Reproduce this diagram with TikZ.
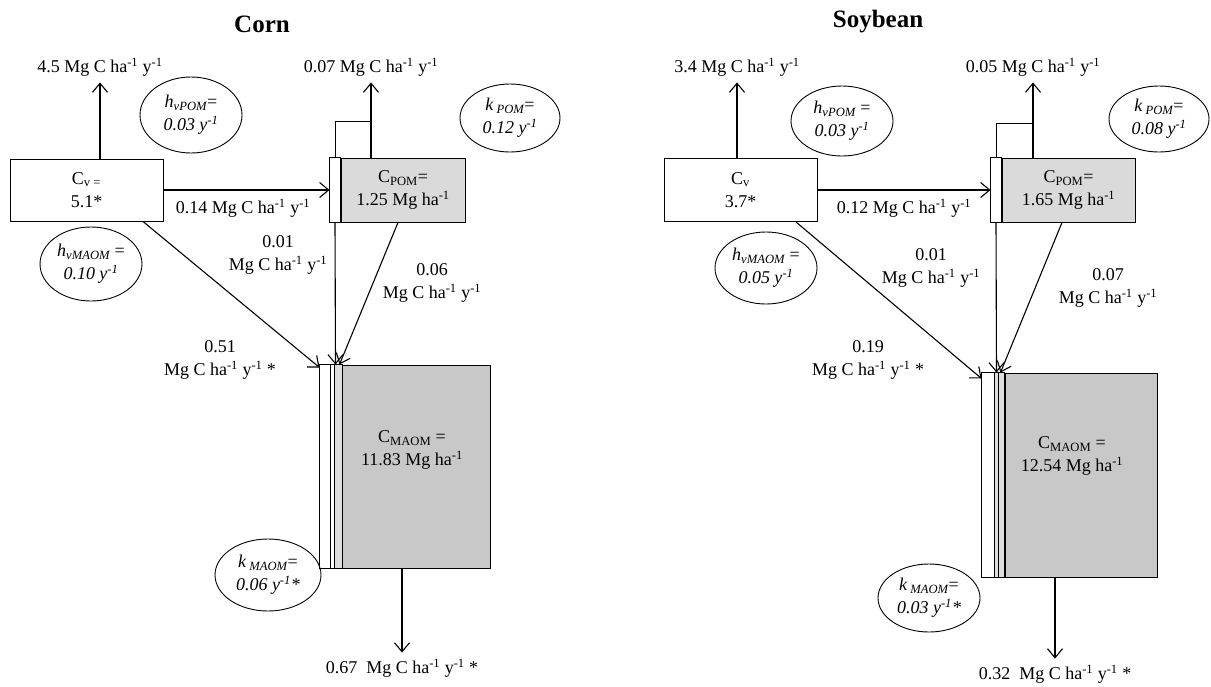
\documentclass[tikz,border=0pt]{standalone}
\usepackage{fontspec}
\setmainfont{Liberation Serif}
\usetikzlibrary{shapes.geometric,arrows.meta}

\definecolor{pomgray}{RGB}{218,218,218}
\definecolor{maomgray}{RGB}{200,200,200}
\definecolor{stripgray}{RGB}{222,222,222}

\tikzset{
  flux/.style={-{Straight Barb[length=9pt,width=15pt]}, line width=1.1pt},
  rate/.style={ellipse, draw, line width=0.9pt, inner sep=0pt, align=center, font=\itshape},
  pool/.style={draw, line width=1pt, inner sep=0pt, align=center},
  note/.style={align=center},
  heading/.style={font=\fontsize{25}{30}\selectfont\bfseries},
}

\begin{document}
\fontsize{18}{23}\selectfont
\begin{tikzpicture}[x=1pt, y=-1pt]
  \useasboundingbox (0,0) rectangle (1211,686);

  % corn
  \node[heading] (corn) at (262,24) {Corn};
  \node[pool, minimum width=153, minimum height=62] (cvC) at (86.5,190) {C\textsubscript{v =}\\5.1*};
  \node[pool, fill=pomgray, minimum width=124, minimum height=64] (pomC) at (403,190) {C\textsubscript{POM}=\\1.25 Mg ha\textsuperscript{-1}};
  \draw[line width=1pt, fill=white] ([xshift=-11pt]pomC.north west) rectangle (pomC.south west);
  \node[pool, fill=maomgray, minimum width=147.5, minimum height=203] (maomC) at (416.25,466.5) {};
  \draw[line width=1pt, fill=white] ([xshift=-22.5pt]maomC.north west) rectangle ([xshift=-11.5pt]maomC.south west);
  \draw[line width=1pt, fill=white] ([xshift=-11.5pt]maomC.north west) rectangle ([xshift=-7.5pt]maomC.south west);
  \draw[line width=1pt, fill=stripgray] ([xshift=-7.5pt]maomC.north west) rectangle (maomC.south west);
  \node[note] (maomCtext) at (412,450) {C\textsubscript{MAOM} =\\11.83 Mg ha\textsuperscript{-1}};

  \node[rate, minimum width=102, minimum height=76] (hvpC) at (191,115) {\textit{h}\textsubscript{vPOM}\textup{=}\\0.03 y\textsuperscript{-1}};
  \node[rate, minimum width=100, minimum height=68] (kpC) at (510,118) {k\textsubscript{ POM}\textup{=}\\0.12 y\textsuperscript{-1}};
  \node[rate, minimum width=102, minimum height=74] (hvmC) at (91,264) {h\textsubscript{vMAOM} \textup{=}\\0.10 y\textsuperscript{-1}};
  \node[rate, minimum width=106, minimum height=72] (kmC) at (268,575) {k\textsubscript{ MAOM}\textup{=}\\0.06 y\textsuperscript{-1}*};

  \node (cvCout) at (100,67) {4.5 Mg C ha\textsuperscript{-1} y\textsuperscript{-1}};
  \node (pomCout) at (371,67) {0.07 Mg C ha\textsuperscript{-1} y\textsuperscript{-1}};
  \node (maomCout) at (402,668) {0.67\ \ Mg C ha\textsuperscript{-1} y\textsuperscript{-1} *};
  \node (fvpC) at (243,208) {0.14 Mg C ha\textsuperscript{-1} y\textsuperscript{-1}};
  \node[note] (fpmC) at (278,255) {0.01\\Mg C ha\textsuperscript{-1} y\textsuperscript{-1}};
  \node[note] (fpmCb) at (432,283) {0.06\\Mg C ha\textsuperscript{-1} y\textsuperscript{-1}};
  \node[note] (fvmC) at (220,360) {0.51\\Mg C ha\textsuperscript{-1} y\textsuperscript{-1} *};
  \coordinate (brC) at (371,121);

  \draw[flux] (cvC.north -| cvCout) -- (cvCout);
  \draw[line width=1pt] ([xshift=-5.5pt]pomC.north west) |- (brC);
  \draw[flux] (pomC.north -| pomCout) -- (pomCout);
  \draw[flux] (cvC.east) -- ([xshift=-11pt]pomC.west);
  \draw[flux] ([xshift=-5.5pt]pomC.south west) -- ([xshift=-6.5pt]maomC.north west);
  \draw[flux] ([xshift=-5pt]pomC.south) -- ([xshift=-2.5pt]maomC.north west);
  \draw[flux] ([xshift=56.5pt]cvC.south) -- ([xshift=-22.5pt,yshift=-3pt]maomC.north west);
  \draw[flux] (maomC.south -| maomCout) -- (maomCout);

  % soybean
  \node[heading] (soy) at (878,22) {Soybean};
  \node[pool, minimum width=153, minimum height=63] (cvS) at (740.5,190) {C\textsubscript{v}\\3.7*};
  \node[pool, fill=pomgray, minimum width=133, minimum height=64] (pomS) at (1068.5,190) {C\textsubscript{POM}=\\1.65 Mg ha\textsuperscript{-1}};
  \draw[line width=1pt, fill=white] ([xshift=-11pt]pomS.north west) rectangle (pomS.south west);
  \node[pool, fill=maomgray, minimum width=152, minimum height=204] (maomS) at (1081,475) {};
  \draw[line width=1pt, fill=white] ([xshift=-23pt]maomS.north west) rectangle ([xshift=-10pt]maomS.south west);
  \draw[line width=1pt, fill=stripgray] ([xshift=-10pt]maomS.north west) rectangle ([xshift=-6pt]maomS.south west);
  \draw[line width=1pt, fill=stripgray] ([xshift=-6pt]maomS.north west) rectangle (maomS.south west);
  \node[note] (maomStext) at (1072,456) {C\textsubscript{MAOM} =\\12.54 Mg ha\textsuperscript{-1}};

  \node[rate, minimum width=102, minimum height=70] (hvpS) at (842,121) {h\textsubscript{vPOM} \textup{=}\\ 0.03 y\textsuperscript{-1}};
  \node[rate, minimum width=100, minimum height=66] (kpS) at (1159,119) {k\textsubscript{ POM}\textup{=}\\0.08 y\textsuperscript{-1}};
  \node[rate, minimum width=102, minimum height=72] (hvmS) at (766,268) {h\textsubscript{vMAOM} \textup{=}\\ 0.05 y\textsuperscript{-1}};
  \node[rate, minimum width=102, minimum height=68] (kmS) at (929,598) {k\textsubscript{ MAOM}\textup{=}\\0.03 y\textsuperscript{-1}*};

  \node (cvSout) at (737,67) {3.4 Mg C ha\textsuperscript{-1} y\textsuperscript{-1}};
  \node (pomSout) at (1033,67) {0.05 Mg C ha\textsuperscript{-1} y\textsuperscript{-1}};
  \node (maomSout) at (1055,674) {0.32\ \ Mg C ha\textsuperscript{-1} y\textsuperscript{-1} *};
  \node (fvpS) at (904,208) {0.12 Mg C ha\textsuperscript{-1} y\textsuperscript{-1}};
  \node[note] (fpmS) at (931,268) {0.01\\Mg C ha\textsuperscript{-1} y\textsuperscript{-1}};
  \node[note] (fpmSb) at (1108,288) {0.07\\Mg C ha\textsuperscript{-1} y\textsuperscript{-1}};
  \node[note] (fvmS) at (868,360) {0.19\\Mg C ha\textsuperscript{-1} y\textsuperscript{-1} *};
  \coordinate (brS) at (1033,123);

  \draw[flux] (cvS.north -| cvSout) -- (cvSout);
  \draw[line width=1pt] ([xshift=-5.5pt]pomS.north west) |- (brS);
  \draw[flux] (pomS.north -| pomSout) -- (pomSout);
  \draw[flux] (cvS.east) -- ([xshift=-11pt]pomS.west);
  \draw[flux] ([xshift=-5.5pt]pomS.south west) -- ([xshift=-8pt]maomS.north west);
  \draw[flux] ([xshift=-6.5pt]pomS.south) -- ([xshift=-4pt]maomS.north west);
  \draw[flux] ([xshift=55.5pt]cvS.south) -- ([xshift=-23pt,yshift=-6pt]maomS.north west);
  \draw[flux] (maomS.south -| maomSout) -- (maomSout);
\end{tikzpicture}
\end{document}
